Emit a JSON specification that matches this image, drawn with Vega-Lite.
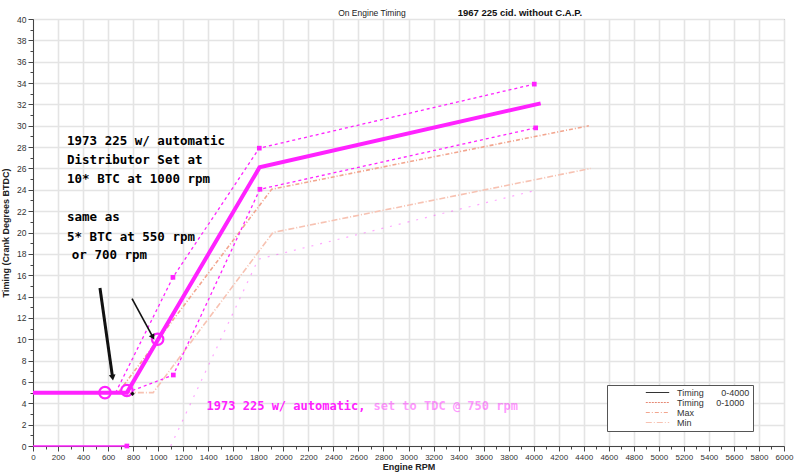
{
  "$schema": "https://vega.github.io/schema/vega-lite/v6.json",
  "autosize": {"type": "none"},
  "padding": {"left": 33, "top": 19, "right": 16, "bottom": 30},
  "width": 751,
  "height": 427,
  "background": "white",
  "config": {
    "view": {"stroke": "#666", "strokeWidth": 1},
    "axis": {
      "labelFont": "Liberation Sans", "labelFontSize": 8.5, "labelColor": "#333", "labelOverlap": false, "labelFlush": false,
      "titleFont": "Liberation Sans", "titleFontSize": 9, "titleFontWeight": "bold", "titleColor": "#222",
      "domainColor": "#444", "tickColor": "#444", "gridColor": "#e4e4e4", "gridWidth": 1.6
    }
  },
  "datasets": {
    "magenta": [
      {"line": "main", "rpm": 0, "deg": 5},
      {"line": "main", "rpm": 750, "deg": 5},
      {"line": "main", "rpm": 1000, "deg": 10},
      {"line": "main", "rpm": 1810, "deg": 26.1},
      {"line": "main", "rpm": 4056, "deg": 32.1},
      {"line": "upper", "rpm": 660, "deg": 5},
      {"line": "upper", "rpm": 1118, "deg": 15.8},
      {"line": "upper", "rpm": 1808, "deg": 27.9},
      {"line": "upper", "rpm": 4005, "deg": 33.9},
      {"line": "lower", "rpm": 750, "deg": 5},
      {"line": "lower", "rpm": 1121, "deg": 6.65},
      {"line": "lower", "rpm": 1813, "deg": 24.05},
      {"line": "lower", "rpm": 4016, "deg": 29.8},
      {"line": "zero", "rpm": 0, "deg": 0},
      {"line": "zero", "rpm": 750, "deg": 0},
      {"line": "faint", "rpm": 1100, "deg": 0},
      {"line": "faint", "rpm": 1800, "deg": 17.5},
      {"line": "faint", "rpm": 4000, "deg": 23.9}
    ],
    "squares": [
      {"rpm": 1118, "deg": 15.8},
      {"rpm": 1808, "deg": 27.9},
      {"rpm": 4005, "deg": 33.9},
      {"rpm": 1121, "deg": 6.65},
      {"rpm": 1813, "deg": 24.05},
      {"rpm": 4016, "deg": 29.8},
      {"rpm": 750, "deg": 0}
    ],
    "circles": [
      {"rpm": 575, "deg": 5},
      {"rpm": 750, "deg": 5.2},
      {"rpm": 996, "deg": 10}
    ],
    "salmon": [
      {"series": "Max", "rpm": 680, "deg": 5},
      {"series": "Max", "rpm": 1907, "deg": 24.05},
      {"series": "Max", "rpm": 4441, "deg": 30},
      {"series": "Min", "rpm": 750, "deg": 5},
      {"series": "Min", "rpm": 960, "deg": 5},
      {"series": "Min", "rpm": 1917, "deg": 20},
      {"series": "Min", "rpm": 4457, "deg": 26}
    ],
    "arrows": [
      {"id": "a1", "rpm": 535, "deg": 14.8, "rpm2": 636, "deg2": 6.4},
      {"id": "a2", "rpm": 791, "deg": 13.8, "rpm2": 958, "deg2": 10.2}
    ],
    "heads": [
      {"id": "a1", "rpm": 636, "deg": 6.4},
      {"id": "a2", "rpm": 958, "deg": 10.2}
    ],
    "notes": [
      {"rpm": 272, "deg": 28.6, "text": "1973 225 w/ automatic"},
      {"rpm": 272, "deg": 26.8, "text": "Distributor Set at"},
      {"rpm": 272, "deg": 24.98, "text": "10* BTC at 1000 rpm"},
      {"rpm": 272, "deg": 21.42, "text": "same as"},
      {"rpm": 272, "deg": 19.6, "text": "5* BTC at 550 rpm"},
      {"rpm": 310, "deg": 17.9, "text": "or 700 rpm"}
    ]
  },
  "encoding": {
    "x": {
      "field": "rpm", "type": "quantitative",
      "scale": {"domain": [0, 6000], "nice": false, "zero": false},
      "axis": {
        "title": "Engine RPM", "titlePadding": 1, "format": "d",
        "values": [0,100,200,300,400,500,600,700,800,900,1000,1100,1200,1300,1400,1500,1600,1700,1800,1900,2000,2100,2200,2300,2400,2500,2600,2700,2800,2900,3000,3100,3200,3300,3400,3500,3600,3700,3800,3900,4000,4100,4200,4300,4400,4500,4600,4700,4800,4900,5000,5100,5200,5300,5400,5500,5600,5700,5800,5900,6000],
        "labelExpr": "datum.value % 200 === 0 ? datum.label : ''",
        "labelOverlap": false, "labelFlush": false, "labelPadding": 2, "labelFontSize": 8,
        "tickSize": {"condition": {"test": "datum.value % 200 === 0", "value": 5}, "value": 3},
        "gridOpacity": {"condition": {"test": "datum.value % 200 === 0", "value": 1}, "value": 0}
      }
    },
    "y": {
      "field": "deg", "type": "quantitative",
      "scale": {"domain": [0, 40], "nice": false},
      "axis": {
        "title": "Timing (Crank Degrees BTDC)", "titlePadding": 6,
        "values": [0,1,2,3,4,5,6,7,8,9,10,11,12,13,14,15,16,17,18,19,20,21,22,23,24,25,26,27,28,29,30,31,32,33,34,35,36,37,38,39,40],
        "labelExpr": "datum.value % 2 === 0 ? datum.label : ''",
        "labelOverlap": false, "labelFlush": false, "labelPadding": 2,
        "tickSize": {"condition": {"test": "datum.value % 2 === 0", "value": 5}, "value": 3},
        "gridOpacity": {"condition": {"test": "datum.value % 2 === 0", "value": 1}, "value": 0}
      }
    }
  },
  "layer": [
    {
      "data": {"name": "salmon"},
      "mark": {"type": "line", "strokeWidth": 1.6},
      "encoding": {
        "color": {
          "field": "series", "type": "nominal",
          "scale": {"domain": ["Timing\u00a0\u00a0\u00a0\u00a0\u00a0\u00a0\u00a00-4000", "Timing\u00a0\u00a0\u00a0\u00a0\u00a00-1000", "Max", "Min"], "range": ["#333333", "#e58873", "#f2a58e", "#f7c2b2"]},
          "legend": {
            "title": null, "orient": "none", "legendX": 574, "legendY": 366,
            "symbolType": "M-3.9,0H3.9", "symbolSize": 36, "symbolStrokeWidth": 1.2,
            "labelFont": "Liberation Sans", "labelFontSize": 9, "labelColor": "#333",
            "rowPadding": -2, "padding": 3, "strokeColor": "#555", "fillColor": "white",
            "symbolOffset": 43, "labelOffset": 15,
            "labelExpr": "datum.label + '\u00a0\u00a0\u00a0\u00a0\u00a0\u00a0\u00a0\u00a0\u00a0\u00a0\u00a0\u00a0\u00a0'"
          }
        },
        "strokeDash": {
          "field": "series", "type": "nominal",
          "scale": {"domain": ["Timing\u00a0\u00a0\u00a0\u00a0\u00a0\u00a0\u00a00-4000", "Timing\u00a0\u00a0\u00a0\u00a0\u00a00-1000", "Max", "Min"], "range": [[1, 0], [2, 1], [4, 2, 1, 2], [6, 2, 1, 2]]},
          "legend": null
        }
      }
    },
    {
      "data": {"name": "magenta"},
      "transform": [{"filter": "datum.line === 'faint'"}],
      "mark": {"type": "line", "color": "#ff22ff", "strokeWidth": 1.2, "strokeDash": [2, 7], "opacity": 0.4}
    },
    {
      "data": {"name": "magenta"},
      "transform": [{"filter": "datum.line === 'upper' || datum.line === 'lower'"}],
      "mark": {"type": "line", "color": "#ff22ff", "strokeWidth": 1.3, "strokeDash": [3, 3]},
      "encoding": {"detail": {"field": "line"}}
    },
    {
      "data": {"name": "magenta"},
      "transform": [{"filter": "datum.line === 'zero'"}],
      "mark": {"type": "line", "color": "#ff22ff", "strokeWidth": 1.6}
    },
    {
      "data": {"name": "magenta"},
      "transform": [{"filter": "datum.line === 'main'"}],
      "mark": {"type": "line", "color": "#ff22ff", "strokeWidth": 4}
    },
    {
      "data": {"name": "squares"},
      "mark": {"type": "square", "color": "#ff22ff", "size": 22, "opacity": 1}
    },
    {
      "data": {"name": "circles"},
      "mark": {"type": "point", "shape": "circle", "color": "#ff22ff", "size": 130, "strokeWidth": 2.2, "filled": false, "opacity": 1}
    },
    {
      "data": {"values": [{"rpm": 795, "deg": 4.9}]},
      "mark": {"type": "point", "shape": "diamond", "color": "#111", "size": 20, "filled": true, "opacity": 1}
    },
    {
      "data": {"name": "arrows"},
      "transform": [{"filter": "datum.id === 'a1'"}],
      "mark": {"type": "rule", "color": "#111", "strokeWidth": 3},
      "encoding": {"x2": {"field": "rpm2"}, "y2": {"field": "deg2"}}
    },
    {
      "data": {"name": "arrows"},
      "transform": [{"filter": "datum.id === 'a2'"}],
      "mark": {"type": "rule", "color": "#111", "strokeWidth": 1.6},
      "encoding": {"x2": {"field": "rpm2"}, "y2": {"field": "deg2"}}
    },
    {
      "data": {"name": "heads"},
      "transform": [{"filter": "datum.id === 'a1'"}],
      "mark": {"type": "point", "shape": "triangle-down", "angle": 352, "color": "#111", "size": 45, "filled": true, "opacity": 1}
    },
    {
      "data": {"name": "heads"},
      "transform": [{"filter": "datum.id === 'a2'"}],
      "mark": {"type": "point", "shape": "triangle-down", "angle": 331, "color": "#111", "size": 40, "filled": true, "opacity": 1}
    },
    {
      "data": {"name": "notes"},
      "mark": {"type": "text", "align": "left", "baseline": "middle", "font": "DejaVu Sans Mono", "fontWeight": "bold", "fontSize": 12.5, "color": "#000"},
      "encoding": {"text": {"field": "text"}}
    },
    {
      "data": {"values": [{"rpm": 1387, "deg": 3.75, "text": "1973 225 w/ automatic,"}]},
      "mark": {"type": "text", "align": "left", "baseline": "middle", "font": "DejaVu Sans Mono", "fontWeight": "bold", "fontSize": 12, "color": "#ff22ff"},
      "encoding": {"text": {"field": "text"}}
    },
    {
      "data": {"values": [{"rpm": 2720, "deg": 3.75, "text": "set to TDC @ 750 rpm"}]},
      "mark": {"type": "text", "align": "left", "baseline": "middle", "font": "DejaVu Sans Mono", "fontWeight": "bold", "fontSize": 12, "color": "#ff22ff", "opacity": 0.45},
      "encoding": {"text": {"field": "text"}}
    },
    {
      "data": {"values": [{"rpm": 2708, "deg": 40.56, "text": "On Engine Timing"}]},
      "mark": {"type": "text", "align": "center", "baseline": "middle", "font": "Liberation Sans", "fontSize": 8.5, "color": "#222", "clip": false},
      "encoding": {"text": {"field": "text"}}
    },
    {
      "data": {"values": [{"rpm": 3890, "deg": 40.56, "text": "1967 225 cid. without C.A.P."}]},
      "mark": {"type": "text", "align": "center", "baseline": "middle", "font": "Liberation Sans", "fontWeight": "bold", "fontSize": 9.5, "color": "#111", "clip": false},
      "encoding": {"text": {"field": "text"}}
    }
  ]
}
